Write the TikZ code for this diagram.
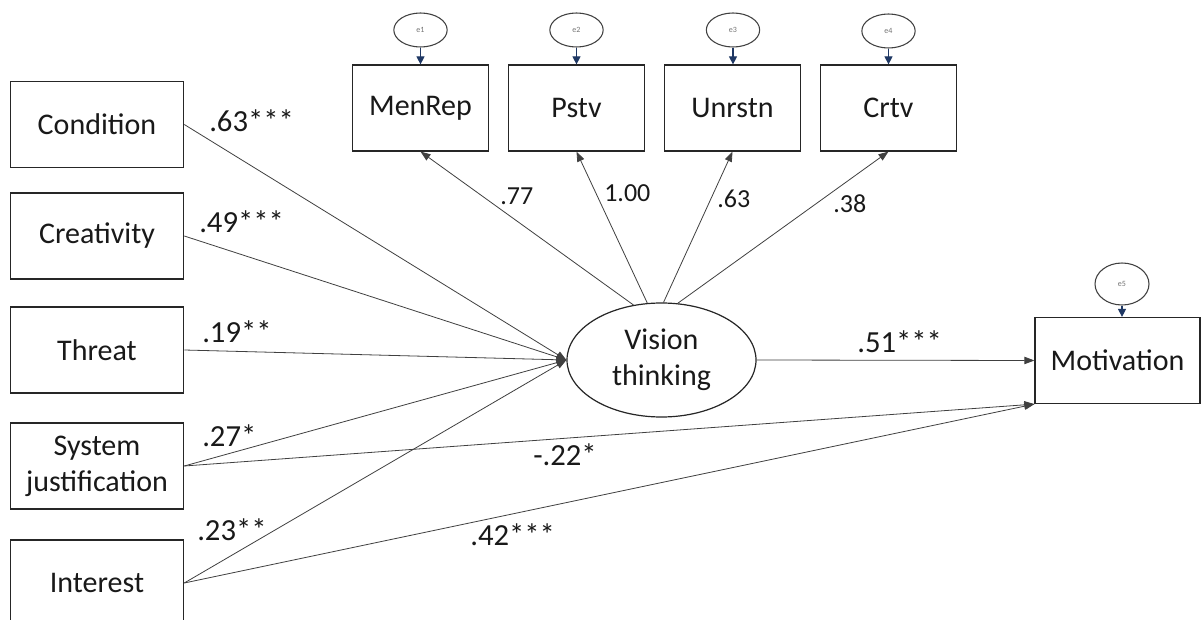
\documentclass[tikz,border=0pt]{standalone}
\usepackage{fontspec}
\setmainfont{Carlito}
\usetikzlibrary{arrows.meta,shapes.geometric}
\definecolor{errblue}{HTML}{1F3864}
\begin{document}
\begin{tikzpicture}[x=0.75pt,y=-0.75pt,
  varbox/.style={draw=black!85,line width=0.9pt,minimum width=#1,minimum height=64.5pt,
    inner sep=0pt,align=center,font=\fontsize{22.5}{27}\selectfont,text=black!90},
  varbox/.default=130pt,
  latent/.style={draw=black!85,line width=0.9pt,ellipse,minimum width=141.75pt,minimum height=85.5pt,
    inner sep=0pt,align=center,font=\fontsize{22.5}{27}\selectfont,text=black!90},
  errnode/.style={draw=black!75,line width=0.8pt,ellipse,minimum width=40pt,minimum height=25.5pt,
    inner sep=0pt,font=\fontsize{6}{7}\selectfont,text=black!55},
  link/.style={draw=black!75,line width=0.6pt,-{Triangle[length=7.5pt,width=5.5pt]}},
  errlink/.style={draw=errblue,line width=0.8pt,-{Triangle[length=6pt,width=6pt]}},
  coef/.style={font=\fontsize{23}{27}\selectfont,inner sep=0pt,anchor=base west,text=black!90},
  load/.style={font=\fontsize{19.5}{24}\selectfont,inner sep=0pt,anchor=base west,text=black!90}]

\useasboundingbox (0,0) rectangle (1203,620);
\fill[white] (0,0) rectangle (1203,620);
\clip (0,0) rectangle (1203,620);

% exogenous predictors
\node[varbox] (cond) at (97,124.5) {Condition};
\node[varbox] (crea) at (97,236) {Creativity};
\node[varbox] (thr)  at (97,350) {Threat};
\node[varbox] (sys)  at (97,466) {System\\justification};
\node[varbox] (int)  at (97,583) {Interest};

% latent factor and its indicators
\node[latent] (vt) at (661.5,360) {Vision\\thinking};
\node[varbox=102pt] (men) at (420.5,108) {MenRep};
\node[varbox=102pt] (pst) at (576.5,108) {Pstv};
\node[varbox=102pt] (unr) at (732.5,108) {Unrstn};
\node[varbox=102pt] (crt) at (888.5,108) {Crtv};

% outcome
\node[varbox=123.75pt] (mot) at (1117.5,360.5) {Motivation};

% error terms
\node[errnode] (e1) at (420.5,30) {e1};
\node[errnode] (e2) at (576.5,30) {e2};
\node[errnode] (e3) at (733,30) {e3};
\node[errnode] (e4) at (888.5,31) {e4};
\node[errnode,minimum width=40.5pt,minimum height=31.5pt] (e5) at (1122,284) {e5};

\draw[errlink] (e1.south) -- (men.north);
\draw[errlink] (e2.south) -- (pst.north);
\draw[errlink] (e3.south) -- (e3.south |- unr.north);
\draw[errlink] (e4.south) -- (crt.north);
\draw[errlink] (e5.south) -- (e5.south |- mot.north);

% structural paths
\draw[link] (cond.east) -- (vt.west);
\draw[link] (crea.east) -- (vt.west);
\draw[link] (thr.east)  -- (vt.west);
\draw[link] (sys.east)  -- (vt.west);
\draw[link] (int.east)  -- (vt.west);
\draw[link] (vt.east) -- (mot.west);
\draw[link] (sys.east) -- (mot.south west);
\draw[link] (int.east) -- (mot.south west);

% factor loadings
\draw[link] (vt.117.4) -- (men.south);
\draw[link] (vt.104)   -- (pst.south);
\draw[link] (vt.88.5)  -- (unr.south);
\draw[link] (vt.74.5)  -- (crt.south);

% coefficients
\node[coef] (c1) at (209,132) {.63***};
\node[coef] (c2) at (199,233) {.49***};
\node[coef] (c3) at (202,342) {.19**};
\node[coef] (c4) at (202,446) {.27*};
\node[coef] (c5) at (197,540) {.23**};
\node[coef] (c6) at (533,465) {-.22*};
\node[coef] (c7) at (470,545) {.42***};
\node[coef] (c8) at (857,353) {.51***};
\node[load] (l1) at (500,205) {.77};
\node[load] (l2) at (604,202) {1.00};
\node[load] (l3) at (717,208) {.63};
\node[load] (l4) at (833,213) {.38};
\end{tikzpicture}
\end{document}
